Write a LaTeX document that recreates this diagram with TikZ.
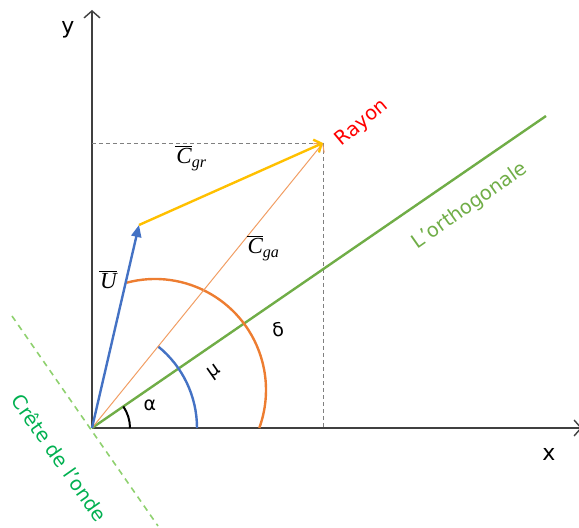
\documentclass[tikz,border=0pt]{standalone}
\usepackage{fontspec}
\setmainfont{DejaVu Sans}
\newfontfamily\lettres{Liberation Serif}
\usepackage{tikz}
\usepackage{xcolor}
\usetikzlibrary{arrows.meta,positioning}
\definecolor{axe}{HTML}{404040}
\definecolor{bleu}{HTML}{4472C4}
\definecolor{jaune}{HTML}{FFC000}
\definecolor{orange}{HTML}{ED7D31}
\definecolor{vert}{HTML}{70AD47}
\definecolor{vertcrete}{HTML}{00B050}
\definecolor{vertclair}{HTML}{8FD16F}
\definecolor{rouge}{HTML}{FF0000}
% lettre surmontee d'une barre
\newcommand\vecbar[1]{\vbox{\hrule height 1pt\kern 1.5pt\hbox{\kern1pt#1}}}

\begin{document}
\begin{tikzpicture}[x=1pt,y=1pt,>=Latex,every node/.style={font=\fontsize{19}{21}\selectfont},
    axis/.style={draw=axe,line width=1.4pt,-{Straight Barb[length=7pt,width=16pt]}},
    guide/.style={draw=gray,dashed,line width=0.8pt,dash pattern=on 4pt off 3pt},
    vecopen/.style={line width=2.4pt,-{Straight Barb[length=6pt,width=14pt]}},
    lbl/.style={font=\fontsize{19.5}{22}\selectfont},
    mathlbl/.style={font=\lettres\itshape\fontsize{23}{25}\selectfont}]
    \useasboundingbox (-92,-100) rectangle (487,428);
    % points
    \coordinate (O) at (0,0);
    \coordinate (ytip) at (0,418);
    \coordinate (xtip) at (490,0);
    \coordinate (R) at (231,285);
    \coordinate (Ry) at (0,285);
    \coordinate (Rx) at (231,0);
    \coordinate (U) at (47,203);
    \coordinate (orth) at (454,312);
    \coordinate (crA) at (-80,112);
    \coordinate (crB) at (66,-98);
    % axes
    \draw[axis] (O)--(ytip);
    \draw[axis] (O)--(xtip);
    \node (ylab) at (-24,398) [font=\fontsize{22}{24}\selectfont] {y};
    \node (xlab) at (457,-26) [font=\fontsize{22}{24}\selectfont] {x};
    % projections
    \draw[guide] (Ry)--(R);
    \draw[guide] (R)--(Rx);
    % crete and orthogonal
    \draw[vertclair,line width=1.6pt,dash pattern=on 6pt off 5pt] (crA)--(crB);
    \draw[vert,line width=2.4pt] (O)--(orth);
    % arcs
    \draw[orange,line width=2.4pt] (63,38)++(105:111) arc[start angle=105,end angle=-20,radius=111];
    \draw[bleu,line width=2.4pt] (O)++(51:105) arc[start angle=51,end angle=0,radius=105];
    \draw[black,line width=2pt] (O)++(34.5:38) arc[start angle=34.5,end angle=0,radius=38];
    % vectors
    \draw[orange!75,line width=1pt,-{Straight Barb[length=6pt,width=14pt]}] (O)--(R);
    \draw[bleu,line width=2.4pt,-{Triangle[length=12pt,width=10pt]}] (O)--(U);
    \draw[jaune,vecopen] (U)--(R);
    % labels
    \node (rayon) at (270,305) [rotate=40,text=rouge,lbl] {Rayon};
    \node (orthlab) at (378,222) [rotate=35,text=vert,lbl] {L’orthogonale};
    \node (cretelab) at (-32,-30) [rotate=-55,text=vertcrete,lbl] {Crête de l’onde};
    \node (alpha) at (58,23) {α};
    \node (mu) at (123,56) [rotate=35] {μ};
    \node (delta) at (186,98) [rotate=10] {δ};
    \node (Ulab) at (16,148) [mathlbl] {\vecbar{U}};
    \node (Cgr) at (99,270) [mathlbl] {\vecbar{C}\textsubscript{gr}};
    \node (Cga) at (171,180) [mathlbl] {\vecbar{C}\textsubscript{ga}};
\end{tikzpicture}
\end{document}
